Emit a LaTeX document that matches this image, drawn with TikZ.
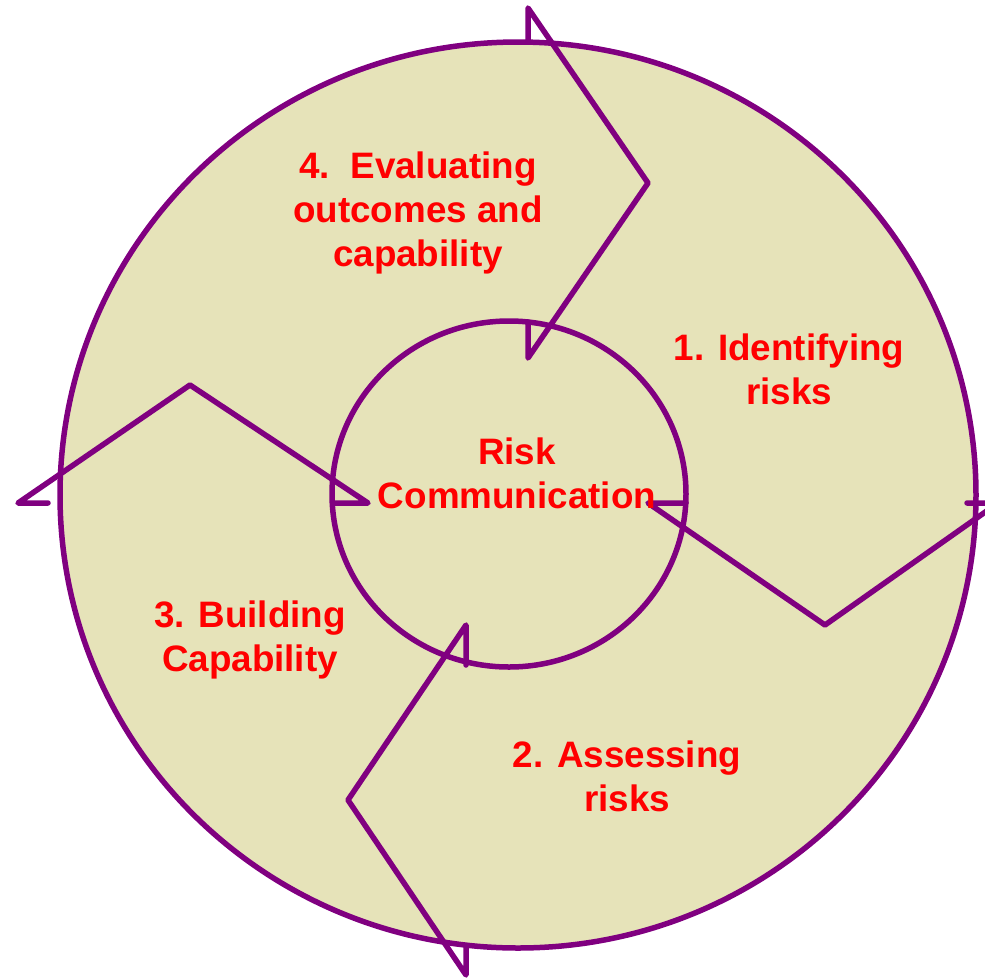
\documentclass[tikz,border=0pt]{standalone}
\usepackage{fontspec}
\setmainfont{Liberation Sans}
\definecolor{ringfill}{HTML}{E6E3B9}
\definecolor{ringline}{HTML}{800080}
\definecolor{labelred}{HTML}{FF0000}
\begin{document}
\begin{tikzpicture}[x=1pt,y=-1pt,
  ring/.style={draw=ringline,line width=5.5pt,fill=ringfill},
  chevron/.style={draw=ringline,line width=5.5pt,line join=round,line cap=round},
  label/.style={text=labelred,font=\bfseries\fontsize{36.8}{44}\selectfont,
    align=center,inner sep=0pt,anchor=base}]
\useasboundingbox (0,0) rectangle (985,978);
% outer and inner rings
\draw[ring] (518,495) ellipse [x radius=458, y radius=453];
\draw[ring] (509,494) ellipse [x radius=177, y radius=173];
% four chevron outlines between the rings
\draw[chevron] (528,42) -- (528,8) -- (648,183) -- (528,358) -- (528,322);
\draw[chevron] (686,503) -- (648,503) -- (825,625) -- (998,503) -- (967,503);
\draw[chevron] (466,665) -- (466,625) -- (348,800) -- (466,975) -- (466,947);
\draw[chevron] (48,503) -- (18,503) -- (190,385) -- (368,503) -- (333,503);
% labels (base anchor sits on the last line)
\node[label] (evaluate) at (418,266) {4.\ \ Evaluating\\outcomes and\\capability};
\node[label] (identify) at (789,404) {1. Identifying\\risks};
\node[label] (centre) at (517,508) {Risk\\Communication};
\node[label] (build) at (250,671) {3. Building\\Capability};
\node[label] (assess) at (627,811) {2. Assessing\\risks};
\end{tikzpicture}
\end{document}
